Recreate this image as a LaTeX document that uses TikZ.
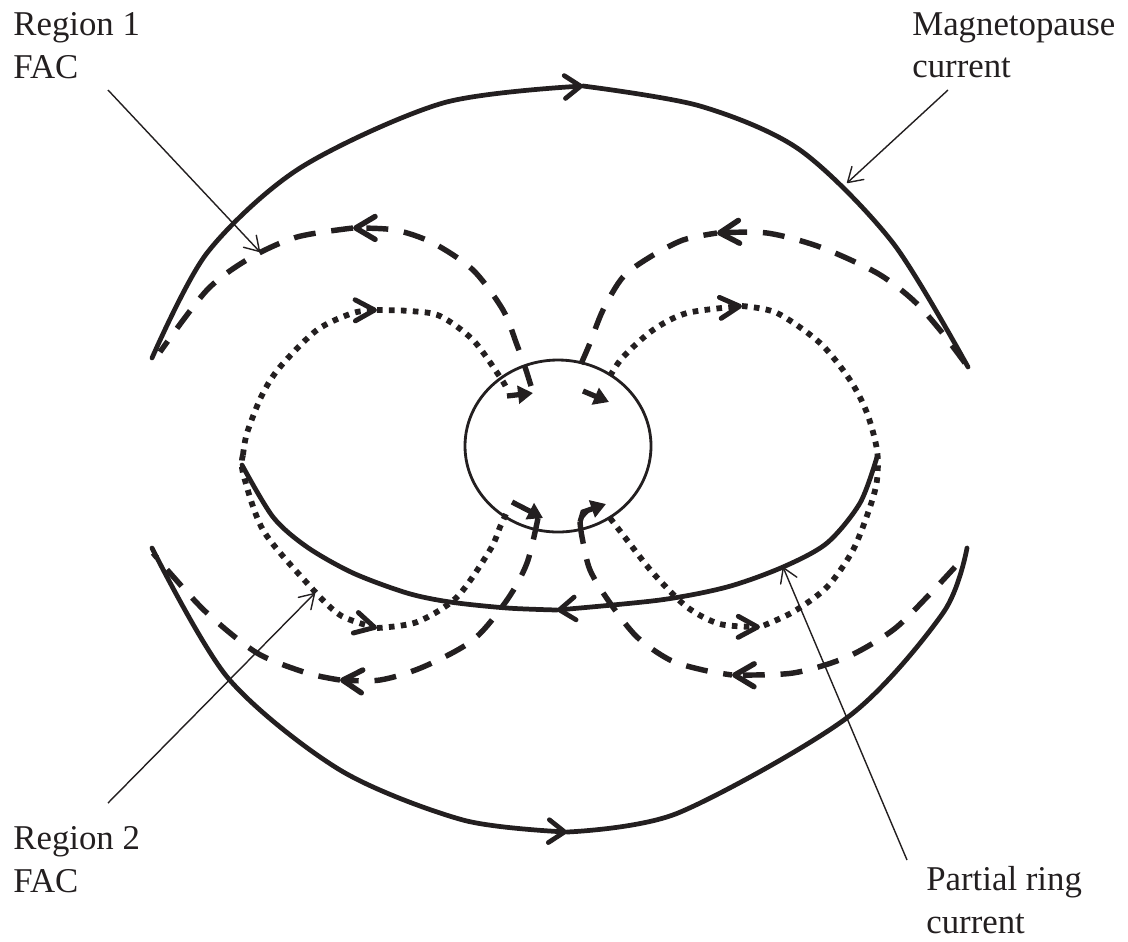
\documentclass[tikz,border=0pt]{standalone}
\usepackage{fontspec}
\setmainfont{Liberation Serif}
\usetikzlibrary{arrows.meta}
\definecolor{ink}{RGB}{35,31,32}
\begin{document}
\begin{tikzpicture}[x=0.02cm,y=-0.02cm, color=ink,
  mp/.style={line width=2.7pt, line cap=round, line join=round},
  fac1/.style={line width=3.1pt, dash pattern=on 12.5pt off 9pt},
  fac2/.style={line width=3.3pt, dash pattern=on 3.2pt off 3.6pt},
  earthline/.style={line width=1.6pt},
  leader/.style={line width=0.8pt, -{Straight Barb[length=8pt,width=10pt,round]}},
  mtip/.style={-{Straight Barb[length=9pt,width=13pt,line width=2.7pt,round]}},
  dtip/.style={-{Straight Barb[length=11pt,width=13pt,line width=3.1pt,round]}},
  ttip/.style={-{Straight Barb[length=11pt,width=12pt,line width=2.8pt,round]}},
  earr/.style={line width=3pt, -{Triangle[length=8.5pt,width=10pt]}, fill=ink},
  lab/.style={align=left, inner sep=0pt, text=ink, anchor=north west,
    font=\fontsize{19.8pt}{24.3pt}\selectfont}
]
\useasboundingbox (0,0) rectangle (1128,941);

% Earth
\coordinate (earth) at (558,446);
\draw[earthline] (earth) ellipse [x radius=93, y radius=86];

% Magnetopause current
\draw[mp, mtip] plot[smooth] coordinates {(152,358) (207,253) (300,168) (443,103) (583,86)};
\draw[mp] plot[smooth] coordinates {(583,86) (700,106) (800,150) (893,243) (968,367)};
\draw[mp, mtip] plot[smooth] coordinates {(152,548) (228,678) (340,770) (463,820) (567,832)};
\draw[mp] plot[smooth] coordinates {(567,832) (678,813) (848,717) (943,613) (967,548)};

% Partial ring current
\draw[mp, mtip] plot[smooth] coordinates {(877,457) (860,503) (827,543) (783,567) (727,587) (660,600) (557,610)};
\draw[mp] plot[smooth] coordinates {(557,610) (507,608) (450,602) (407,593) (353,573) (307,547) (273,517) (242,465)};

% Region 1 FAC (dashed)
\draw[fac1, dtip] plot[smooth] coordinates {(531,386) (525,367) (517,345) (503,310) (473,270) (433,243) (395,230) (353,228)};
\draw[fac1] plot[smooth] coordinates {(353,228) (297,237) (250,258) (207,290) (160,352)};
\draw[fac1, dtip] plot[smooth] coordinates {(965,363) (940,330) (913,300) (877,273) (820,247) (767,233) (717,233)};
\draw[fac1] plot[smooth] coordinates {(581,364) (590,343) (603,310) (623,277) (650,257) (683,240) (717,233)};
\draw[fac1, dtip] plot[smooth] coordinates {(538,518) (527,563) (507,600) (473,640) (423,667) (380,680) (340,680)};
\draw[fac1] plot[smooth] coordinates {(340,680) (307,673) (257,653) (207,613) (170,573) (153,553)};
\draw[fac1] plot[smooth] coordinates {(580,522) (582,537) (590,570) (610,603) (637,637) (670,660) (703,670) (732,675)};
\draw[fac1, dtip] plot[smooth] coordinates {(955,567) (927,597) (893,630) (847,657) (793,673) (732,675)};

% Region 2 FAC (dotted)
\draw[fac2, ttip] plot[smooth] coordinates {(243,455) (247,433) (262,395) (280,367) (317,330) (353,313) (377,310)};
\draw[fac2] plot[smooth] coordinates {(377,310) (410,311) (440,316) (473,340) (500,377) (507,389)};
\draw[fac2, ttip] plot[smooth] coordinates {(243,455) (243,473) (263,530) (307,583) (340,615) (377,628)};
\draw[fac2] plot[smooth] coordinates {(377,628) (417,622) (457,597) (490,550) (500,527) (507,512)};
\draw[fac2, ttip] plot[smooth] coordinates {(610,376) (623,357) (653,330) (687,313) (742,306)};
\draw[fac2] plot[smooth] coordinates {(742,306) (777,313) (820,343) (850,380) (867,413) (877,450) (877,480) (870,507) (853,550) (827,587) (793,612) (760,627)};
\draw[fac2, ttip] plot[smooth] coordinates {(610,518) (627,540) (653,573) (687,607) (720,624) (760,627)};

% short arrows at the Earth
\draw[earr] (507,396) -- (533,393);
\draw[earr] (583,391) -- (609,402);
\draw[earr] (512,502) -- (543,518);
\draw[earr] (580,522) -- (583,512) -- (606,504);

% labels
\node[lab] (r1) at (13,12) {Region 1\\FAC};
\node[lab] (mpc) at (912,12) {Magnetopause\\current};
\node[lab] (r2) at (13,826) {Region 2\\FAC};
\node[lab] (prc) at (926,866) {Partial ring\\current};

% leaders
\coordinate (r1s) at (108,90);   \coordinate (r1t) at (260,252);
\coordinate (mps) at (948,90);   \coordinate (mpt) at (847,183);
\coordinate (r2s) at (108,803);  \coordinate (r2t) at (315,593);
\coordinate (prs) at (907,860);  \coordinate (prt) at (783,567);
\draw[leader] (r1s) -- (r1t);
\draw[leader] (mps) -- (mpt);
\draw[leader] (r2s) -- (r2t);
\draw[leader] (prs) -- (prt);
\end{tikzpicture}
\end{document}
